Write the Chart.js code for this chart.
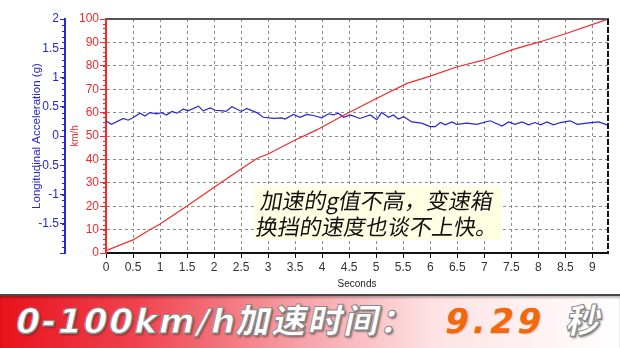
<!DOCTYPE html>
<html>
<head>
<meta charset="utf-8">
<script src="https://cdn.jsdelivr.net/npm/chart.js@4.4.0/dist/chart.umd.min.js"></script>
<style>
body { margin: 0; background: #fff; }
#wrap { position: relative; width: 620px; height: 348px; overflow: hidden; background: #fff; }
#plot { position: absolute; left: 0; top: 0; }
#note {
  position: absolute; left: 254px; top: 186px; width: 248px; height: 54px;
  background: #ffffe4;
}
#note .t {
  position: absolute; left: 4px; top: 0; color: #111; white-space: nowrap;
  font-family: "Noto Sans CJK SC", sans-serif;
  font-size: 22px; line-height: 26px;
  transform: skewX(-10deg); transform-origin: 0 60%;
}
#banner {
  position: absolute; left: 0; top: 294px; width: 620px; height: 54px;
  border-top: 2px solid #4a4a4a; box-sizing: border-box;
  background: linear-gradient(to right, #e8121c 0%, #f0424e 22%, #f7a0a6 48%, #fde2e4 70%, #ffffff 100%);
  box-shadow: inset 0 2px 2px rgba(0,0,0,.25);
}
#banner .txt {
  position: absolute; left: 12px; top: 5px; white-space: nowrap;
  font-family: "DejaVu Sans", "Noto Sans CJK SC", sans-serif; font-weight: 900;
  font-size: 34px; line-height: 40px; letter-spacing: 2px;
  transform: skewX(-12deg); transform-origin: 0 100%;
}
.w { color: #fff; -webkit-text-stroke: 1px #8a8a8a; text-shadow: 1px 1px 0 #777, 2px 2px 2px rgba(0,0,0,.35); }
.o { color: #f2680c; margin-left: 28px; margin-right: 22px; letter-spacing: 4px; text-shadow: 1px 1px 1px rgba(0,0,0,.15); }
</style>
</head>
<body>
<div id="wrap">
  <canvas id="plot" width="620" height="295"></canvas>
  <div id="note"><div class="t">加速的g值不高，变速箱<br>换挡的速度也谈不上快。</div></div>
  <div id="banner"><div class="txt"><span class="w">0-100km/h加速时间：</span><span class="o">9.29</span><span class="w">秒</span></div></div>
</div>
<script>
"use strict";
// speed trace (km/h) against time (s)
const speedTime = [0, 0.5, 0.75, 1, 1.5, 2, 2.5, 2.8, 3, 3.5, 3.9, 4.33, 4.95, 5.57, 6, 6.5, 7, 7.54, 8.04, 8.53, 9.29];
const speedKmh = [1, 5.6, 9.1, 12.4, 20.1, 28.1, 35.9, 40.5, 42.3, 48.3, 52.6, 58, 65.4, 72.5, 75.6, 79.6, 82.5, 87, 90.3, 93.9, 100];

// longitudinal acceleration (g) against time (s)
const accelTime = [0, 0.1, 0.32, 0.41, 0.51, 0.63, 0.72, 0.81, 0.94, 1.03, 1.12, 1.22, 1.31, 1.43, 1.52, 1.71, 1.8, 1.93,
  2.02, 2.17, 2.22, 2.33, 2.51, 2.6, 2.79, 2.91, 3.1, 3.25, 3.31, 3.47, 3.59, 3.72, 3.84, 3.99, 4.12, 4.21, 4.3, 4.4,
  4.52, 4.7, 4.89, 5.01, 5.1, 5.23, 5.32, 5.41, 5.51, 5.66, 5.84, 6.0, 6.09, 6.19, 6.28, 6.4, 6.49, 6.68, 6.86, 7.11,
  7.33, 7.45, 7.57, 7.7, 7.82, 7.94, 8.04, 8.16, 8.28, 8.41, 8.59, 8.72, 8.9, 9.12, 9.27];
const accelG = [0.26, 0.20, 0.30, 0.27, 0.32, 0.39, 0.34, 0.40, 0.38, 0.40, 0.36, 0.42, 0.39, 0.46, 0.43, 0.51, 0.43, 0.48,
  0.44, 0.43, 0.42, 0.50, 0.42, 0.47, 0.40, 0.32, 0.30, 0.31, 0.29, 0.37, 0.32, 0.37, 0.35, 0.31, 0.38, 0.36, 0.39, 0.32,
  0.36, 0.30, 0.36, 0.28, 0.40, 0.32, 0.36, 0.29, 0.33, 0.24, 0.22, 0.16, 0.16, 0.23, 0.19, 0.24, 0.20, 0.22, 0.20, 0.26,
  0.17, 0.24, 0.20, 0.24, 0.19, 0.23, 0.19, 0.24, 0.19, 0.23, 0.26, 0.20, 0.22, 0.24, 0.19];

// axis ticks
const secondTicks = [0, 0.5, 1, 1.5, 2, 2.5, 3, 3.5, 4, 4.5, 5, 5.5, 6, 6.5, 7, 7.5, 8, 8.5, 9];
const speedTicks = [0, 10, 20, 30, 40, 50, 60, 70, 80, 90, 100];
const accelTicks = [-2, -1.5, -1, -0.5, 0, 0.5, 1, 1.5, 2];
const accelLabels = ["", "-1.5", "-1", "-0.5", "0", "0.5", "1", "1.5", "2"];

const RED = "#f22a2a";
const BLUE = "#2626d4";
const GRID = "#8c8c8c";

function toPoints(xs, ys) {
  return xs.map((x, i) => ({ x: x, y: ys[i] }));
}

// small ticks between the labelled ones on the two left axes
const minorTicks = {
  id: "minorTicks",
  afterDraw(chart) {
    const ctx = chart.ctx;
    const sp = chart.scales.y;
    const ac = chart.scales.y1;
    ctx.save();
    ctx.lineWidth = 1;
    ctx.strokeStyle = RED;
    for (let v = 0; v <= 100; v += 2) {
      const p = Math.round(sp.getPixelForValue(v)) + 0.5;
      ctx.beginPath();
      ctx.moveTo(sp.right - 3, p);
      ctx.lineTo(sp.right, p);
      ctx.stroke();
    }
    ctx.strokeStyle = BLUE;
    for (let v = -20; v <= 20; v += 1) {
      const p = Math.round(ac.getPixelForValue(v / 10)) + 0.5;
      ctx.beginPath();
      ctx.moveTo(ac.right - 3, p);
      ctx.lineTo(ac.right, p);
      ctx.stroke();
    }
    ctx.restore();
  }
};

// top and right frame of the plot
const frame = {
  id: "frame",
  afterDraw(chart) {
    const a = chart.chartArea;
    const ctx = chart.ctx;
    ctx.save();
    ctx.lineWidth = 2;
    ctx.strokeStyle = "#555";
    ctx.beginPath();
    ctx.moveTo(a.left, a.top);
    ctx.lineTo(a.right + 1, a.top);
    ctx.stroke();
    ctx.strokeStyle = "#111";
    ctx.setLineDash([6, 2]);
    ctx.beginPath();
    ctx.moveTo(a.right, a.top);
    ctx.lineTo(a.right, a.bottom);
    ctx.stroke();
    ctx.restore();
  }
};

const ctx = document.getElementById("plot").getContext("2d");
const chart = new Chart(ctx, {
  type: "line",
  data: {
    datasets: [
      {
        label: "km/h",
        data: toPoints(speedTime, speedKmh),
        yAxisID: "y",
        borderColor: RED,
        borderWidth: 1.2,
        pointRadius: 0,
        tension: 0
      },
      {
        label: "g",
        data: toPoints(accelTime, accelG),
        yAxisID: "y1",
        borderColor: BLUE,
        borderWidth: 1.2,
        pointRadius: 0,
        tension: 0
      }
    ]
  },
  options: {
    responsive: false,
    animation: false,
    devicePixelRatio: 1,
    layout: { padding: { top: 19, right: 12, left: 0, bottom: 0 } },
    plugins: { legend: { display: false }, tooltip: { enabled: false } },
    scales: {
      x: {
        type: "linear",
        min: 0,
        max: 9.29,
        afterBuildTicks: s => { s.ticks = secondTicks.map(v => ({ value: v })); },
        afterFit: s => { s.height = 42; },
        ticks: {
          color: "#333",
          font: { family: "Liberation Sans", size: 12 },
          padding: 2,
          maxRotation: 0,
          autoSkip: false,
          callback: v => String(v)
        },
        grid: { color: GRID, tickColor: "#111", tickLength: 5 },
        border: { color: "#111", width: 2, dash: [3, 3] },
        title: {
          display: true,
          text: "Seconds",
          color: "#222",
          font: { family: "Liberation Sans", size: 10 },
          padding: { top: 0, bottom: 5 }
        }
      },
      y: {
        position: "left",
        weight: 0,
        min: 0,
        max: 100,
        afterBuildTicks: s => { s.ticks = speedTicks.map(v => ({ value: v })); },
        afterFit: s => { s.width = 41; },
        ticks: {
          color: RED,
          font: { family: "Liberation Sans", size: 12 },
          padding: 1,
          callback: v => String(v)
        },
        grid: { color: GRID, tickColor: RED, tickLength: 6 },
        border: { color: RED, width: 2, dash: [3, 3] },
        title: {
          display: true,
          text: "km/h",
          color: RED,
          font: { family: "Liberation Sans", size: 10 },
          padding: { top: 4, bottom: 0 }
        }
      },
      y1: {
        position: "left",
        weight: 1,
        min: -2,
        max: 2,
        afterBuildTicks: s => { s.ticks = accelTicks.map(v => ({ value: v })); },
        afterFit: s => { s.width = 65; },
        ticks: {
          color: BLUE,
          font: { family: "Liberation Sans", size: 12 },
          padding: 1,
          callback: (v, i) => accelLabels[i]
        },
        grid: { drawOnChartArea: false, color: BLUE, tickLength: 5 },
        border: { color: BLUE, width: 2 },
        title: {
          display: true,
          text: "Longitudinal Acceleration (g)",
          color: BLUE,
          font: { family: "Liberation Sans", size: 11.5 },
          padding: { top: 30, bottom: 0 }
        }
      }
    }
  },
  plugins: [minorTicks, frame]
});
</script>
</body>
</html>
